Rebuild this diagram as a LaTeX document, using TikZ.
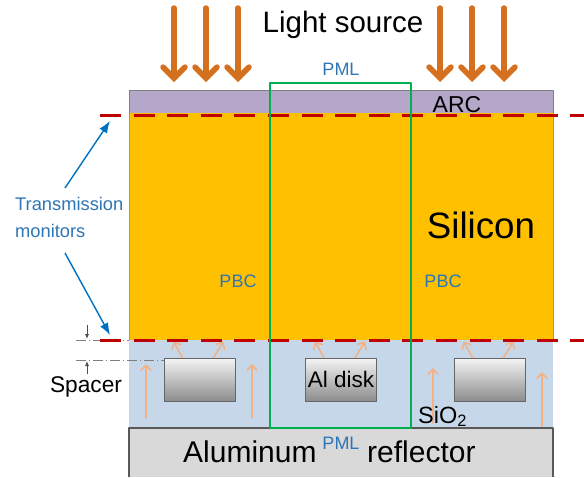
\documentclass[tikz,border=0pt]{standalone}
\usepackage{fontspec}
\setmainfont{Liberation Sans}
\usetikzlibrary{arrows.meta}

\definecolor{beamorange}{HTML}{D4701E}
\definecolor{rayorange}{HTML}{F4B183}
\definecolor{arcpurple}{HTML}{B4A7C9}
\definecolor{siliconorange}{HTML}{FFC000}
\definecolor{oxideblue}{HTML}{C6D7EA}
\definecolor{reflgray}{HTML}{D9D9D9}
\definecolor{pmlgreen}{HTML}{00B050}
\definecolor{monred}{HTML}{C00000}
\definecolor{lblblue}{HTML}{2E75B6}
\definecolor{arrowblue}{HTML}{0070C0}

\begin{document}
\begin{tikzpicture}[x=1pt, y=-1pt, line join=round,
		lbl/.style={inner sep=0pt, anchor=base},
		bluelbl/.style={lbl, text=lblblue, font=\fontsize{18}{20}\selectfont},
		beam/.style={draw=beamorange, line width=5.5pt, line cap=round,
			-{Straight Barb[length=11pt, width=22pt, line cap=round]}},
		ray/.style={draw=rayorange, line width=1.6pt, line cap=round,
			-{Straight Barb[length=5pt, width=10pt, line cap=round]}},
		monarrow/.style={draw=arrowblue, line width=1.4pt, -{Latex[length=12pt, width=9pt]}},
		monitor/.style={draw=monred, line width=3pt, dash pattern=on 21pt off 12.6pt},
		dimline/.style={draw=gray, line width=0.8pt, dash pattern=on 10pt off 3pt on 1pt off 3pt},
		dimarrow/.style={draw=black!70, line width=0.8pt, -{Latex[length=5pt, width=4pt]}},
		disk/.style={draw=black!60, line width=0.8pt, top color=black!4, bottom color=black!45,
			minimum width=71pt, minimum height=43pt, inner sep=0pt,
			font=\fontsize{22.5}{24}\selectfont}]
		% Page size of the reference
		\useasboundingbox (0,0) rectangle (584,477);
		\def\xl{129} \def\xr{553}
		
		% Layer stack
		\fill[arcpurple] (\xl,90) rectangle (\xr,113);
		\draw[black!50, line width=0.8pt] (\xl,113) -- (\xl,90) -- (\xr,90) -- (\xr,113);
		\fill[siliconorange] (\xl,113) rectangle (\xr,340);
		\draw[orange!80!brown, line width=0.8pt] (\xl,113) -- (\xl,340) (\xr,113) -- (\xr,340);
		\fill[oxideblue] (\xl,340) rectangle (\xr,428);
		\fill[reflgray] (\xl,428) rectangle (\xr,477);
		\draw[black!65, line width=1.5pt] (\xl,477) -- (\xl,428) -- (\xr,428) -- (\xr,477);
		
		% Aluminum disks in the oxide
		\node[disk] (disk1) at (199.5,379.5) {};
		\node[disk] (disk2) at (341,379.5) {Al disk};
		\node[disk] (disk3) at (489.5,379.5) {};
		
		% Scattered light from the disks
		\foreach \d in {1,2,3} {
			\draw[ray] ([xshift=-17pt]disk\d.north) -- ++(-9,-16);
			\draw[ray] ([xshift=14pt]disk\d.north) -- ++(10,-16);
		}
		% Light reflected from the mirror
		\draw[ray] (146,418) -- (146,364);
		\draw[ray] (252,418) -- (252,364);
		\draw[ray] (433,423) -- (433,368);
		\draw[ray] (542,426) -- (542,372);
		
		% Incident light
		\foreach \x in {174,206,238,440,472,504}
		\draw[beam] (\x,8) -- (\x,82);
		\node[lbl, font=\fontsize{29.5}{31}\selectfont] (light) at (343,32) {Light source};
		
		% Spacer marks
		\draw[dimline] (76,340) -- (\xl,340);
		\draw[dimline] (76,360) -- (disk1.west |- 0,360);
		\draw[dimarrow] (87,325) -- (87,339);
		\draw[dimarrow] (87,374) -- (87,361);
		\node[lbl, font=\fontsize{22.7}{24}\selectfont] (spacer) at (86,392) {Spacer};
		
		% Transmission monitors
		\coordinate (montop) at (100,115);
		\coordinate (monbot) at (100,340);
		\draw[monitor] (montop) -- (584,115);
		\draw[monitor] (monbot) -- (584,340);
		\node[inner sep=0pt, anchor=base west, align=left, text=lblblue,
		font=\fontsize{18.3}{27}\selectfont] (tm) at (15,237) {Transmission\\monitors};
		\coordinate (tmtop) at (65,188);
		\coordinate (tmbot) at (65,253);
		\draw[monarrow] (tmtop) -- ([xshift=10pt, yshift=-6pt]montop);
		\draw[monarrow] (tmbot) -- ([xshift=10pt, yshift=5pt]monbot);
		
		% Simulation cell
		\draw[pmlgreen, line width=2.5pt] (270,83) rectangle (411,428);
		\node[bluelbl] (pmltop) at (341,75) {PML};
		\node[bluelbl] (pmlbot) at (341,449) {PML};
		\node[bluelbl] (pbcl) at (238,287) {PBC};
		\node[bluelbl] (pbcr) at (443,287) {PBC};
		
		% Layer names
		\node[lbl, font=\fontsize{23}{25}\selectfont] (arc) at (457,112) {ARC};
		\node[lbl, font=\fontsize{36.7}{38}\selectfont] (si) at (481,238) {Silicon};
		\node[inner sep=0pt, anchor=base west, font=\fontsize{23.5}{25}\selectfont] (oxide) at (418,423) {SiO\textsubscript{2}};
		\node[inner sep=0pt, anchor=base west, font=\fontsize{30}{32}\selectfont] (alu) at (183,462) {Aluminum};
		\node[inner sep=0pt, anchor=base west, font=\fontsize{30}{32}\selectfont] (refl) at (367,462) {reflector};
	\end{tikzpicture}
\end{document}
